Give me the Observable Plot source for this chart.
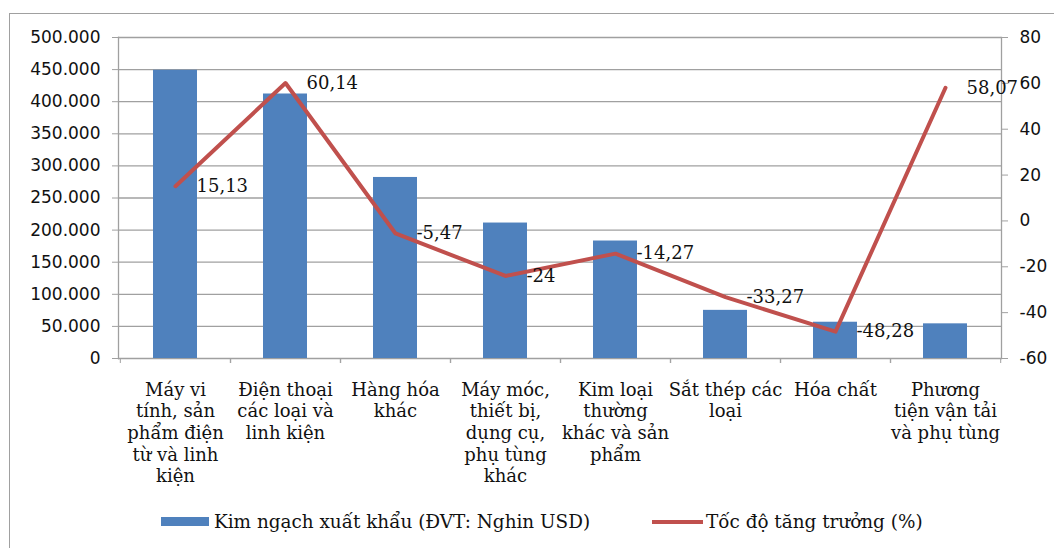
<!DOCTYPE html>
<html>
<head>
<meta charset="utf-8">
<script src="https://cdn.jsdelivr.net/npm/d3@7"></script>
<script src="https://cdn.jsdelivr.net/npm/@observablehq/plot@0.6"></script>
<style>
  html, body { margin: 0; padding: 0; background: #fff; width: 1054px; height: 548px; overflow: hidden; }
  #frame { position: absolute; left: 9px; top: 13px; width: 1100px; height: 600px; border: 1.5px solid #a0a0a0; box-sizing: border-box; }
  #chart { position: absolute; left: 0; top: 0; }
  .lg { position: absolute; font-family: "DejaVu Serif", serif; font-size: 18.4px; line-height: 20px; color: #111; white-space: pre; }
  .sw { position: absolute; }
</style>
</head>
<body>
<div id="frame"></div>
<div id="chart"></div>
<div class="sw" style="left:161px; top:517px; width:48px; height:9px; background:#4f81bd;"></div>
<div class="lg" id="lg1" style="left:214px; top:512px;"></div>
<div class="sw" style="left:652px; top:520px; width:51px; height:4px; background:#c0504d;"></div>
<div class="lg" id="lg2" style="left:706px; top:512px;"></div>
<script>
// ---- data ----
const categories = [
  "Máy vi\ntính, sản\nphẩm điện\ntừ và linh\nkiện",
  "Điện thoại\ncác loại và\nlinh kiện",
  "Hàng hóa\nkhác",
  "Máy móc,\nthiết bị,\ndụng cụ,\nphụ tùng\nkhác",
  "Kim loại\nthường\nkhác và sản\nphẩm",
  "Sắt thép các\nloại",
  "Hóa chất",
  "Phương\ntiện vận tải\nvà phụ tùng"
];
const exportValue = [449000, 412000, 282000, 211000, 183000, 75000, 56500, 54000];
const growth = [15.13, 60.14, -5.47, -24, -14.27, -33.27, -48.28, 58.07];
const growthLabels = ["15,13", "60,14", "-5,47", "-24", "-14,27", "-33,27", "-48,28", "58,07"];
const leftTicks = [0, 50000, 100000, 150000, 200000, 250000, 300000, 350000, 400000, 450000, 500000];
const rightTicks = [-60, -40, -20, 0, 20, 40, 60, 80];
const seriesNames = ["Kim ngạch xuất khẩu (ĐVT: Nghin USD)", "Tốc độ tăng trưởng (%)"];

// ---- dual axis mapping ----
const leftDomain = [0, 500000];
const rightDomain = [-60, 80];
const toLeft = v => (v - rightDomain[0]) / (rightDomain[1] - rightDomain[0]) * (leftDomain[1] - leftDomain[0]) + leftDomain[0];
const fromLeft = v => (v - leftDomain[0]) / (leftDomain[1] - leftDomain[0]) * (rightDomain[1] - rightDomain[0]) + rightDomain[0];

const data = categories.map((c, i) => ({
  cat: c, value: exportValue[i], growth: growth[i], gy: toLeft(growth[i]), label: growthLabels[i]
}));

const W = 1054, H = 500, ML = 118, MR = 53, MT = 37, MB = 142;
const step = (W - ML - MR) / categories.length;
const grey = "#a0a0a0";
const sans = "DejaVu Sans";
const serif = "DejaVu Serif";

const chart = Plot.plot({
  width: W, height: H,
  marginLeft: ML, marginRight: MR, marginTop: MT, marginBottom: MB,
  style: { background: "transparent", color: "#111", fontFamily: sans, fontSize: "17px" },
  x: { domain: categories, paddingInner: 0.6, paddingOuter: 0.3, axis: null, label: null },
  y: { domain: leftDomain, axis: null, label: null },
  marks: [
    Plot.gridY(leftTicks, { stroke: grey, strokeOpacity: 1, strokeWidth: 1.3 }),
    Plot.barY(data, { x: "cat", y: "value", fill: "#4f81bd" }),
    Plot.frame({ anchor: "left", stroke: grey, strokeWidth: 1.3 }),
    Plot.frame({ anchor: "right", stroke: grey, strokeWidth: 1.3 }),
    Plot.axisY(leftTicks, {
      anchor: "left", tickSize: 6, tickPadding: 12, stroke: grey, strokeOpacity: 1, label: null,
      tickFormat: d => d3.format(",")(d).replace(/,/g, "."),
      fontFamily: sans, fontSize: 17, fill: "#111"
    }),
    Plot.axisY(rightTicks.map(toLeft), {
      anchor: "right", tickSize: 6, tickPadding: 12, stroke: grey, strokeOpacity: 1, label: null,
      tickFormat: d => String(Math.round(fromLeft(d))),
      fontFamily: sans, fontSize: 17, fill: "#111"
    }),
    Plot.axisX({ anchor: "bottom", tickSize: 5, tickFormat: () => "", label: null, dx: -step / 2, stroke: grey, strokeOpacity: 1 }),
    Plot.axisX({ anchor: "bottom", tickSize: 5, tickFormat: () => "", label: null, dx: step / 2, stroke: grey, strokeOpacity: 1 }),
    Plot.axisX({
      anchor: "bottom", tickSize: 0, tickPadding: 22, lineHeight: 1.2, label: null,
      fontFamily: serif, fontSize: 18, fill: "#111"
    }),
    Plot.lineY(data, { x: "cat", y: "gy", stroke: "#c0504d", strokeWidth: 4 }),
    Plot.text(data, {
      x: "cat", y: "gy", text: "label", dx: 21, textAnchor: "start",
      fontFamily: serif, fontSize: 18, fill: "#111"
    })
  ]
});
document.getElementById("chart").appendChild(chart);
document.getElementById("lg1").textContent = seriesNames[0];
document.getElementById("lg2").textContent = seriesNames[1];
</script>
</body>
</html>
